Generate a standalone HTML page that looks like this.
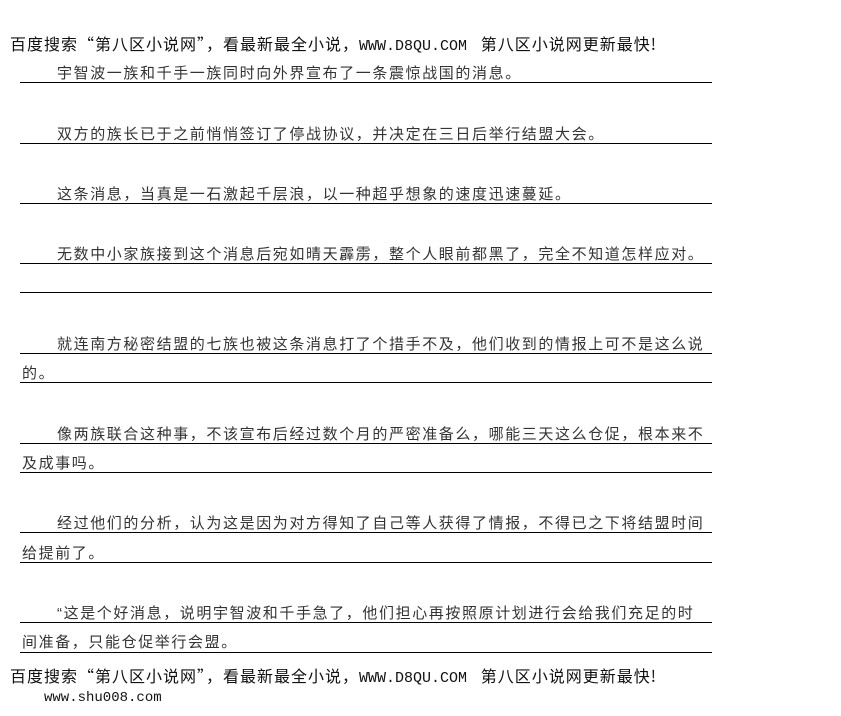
<!DOCTYPE html>
<html><head><meta charset="utf-8"><style>
body{margin:0;width:841px;height:716px;background:#fff;position:relative;overflow:hidden;font-family:"Liberation Sans","Noto Sans CJK SC","WenQuanYi Zen Hei",sans-serif;color:#111}
.h{position:absolute;left:10px;font-size:16px;letter-spacing:1px;white-space:nowrap;line-height:18px;font-family:"Noto Sans CJK SC","WenQuanYi Zen Hei",sans-serif}
.t{position:absolute;font-size:15px;letter-spacing:1.6px;white-space:nowrap;line-height:16px;color:#333}
.l{position:absolute;left:20px;width:692px;height:1px;background:#000}
.m{font-family:"Liberation Mono",monospace;font-size:15px;letter-spacing:0}
</style></head><body>
<div class="h" style="top:34px">百度搜索“第八区小说网”，看最新最全小说，<span class="m">WWW.D8QU.COM</span>&nbsp;&nbsp;&nbsp;第八区小说网更新最快!</div>

<div class="t" style="left:57px;top:66px">宇智波一族和千手一族同时向外界宣布了一条震惊战国的消息。</div>
<div class="l" style="top:82px"></div>

<div class="t" style="left:57px;top:127px">双方的族长已于之前悄悄签订了停战协议，并决定在三日后举行结盟大会。</div>
<div class="l" style="top:143px"></div>

<div class="t" style="left:57px;top:187px">这条消息，当真是一石激起千层浪，以一种超乎想象的速度迅速蔓延。</div>
<div class="l" style="top:203px"></div>

<div class="t" style="left:57px;top:247px">无数中小家族接到这个消息后宛如晴天霹雳，整个人眼前都黑了，完全不知道怎样应对。</div>
<div class="l" style="top:263px"></div>
<div class="l" style="top:292px"></div>

<div class="t" style="left:57px;top:337px">就连南方秘密结盟的七族也被这条消息打了个措手不及，他们收到的情报上可不是这么说</div>
<div class="l" style="top:353px"></div>
<div class="t" style="left:22px;top:366px">的。</div>
<div class="l" style="top:382px"></div>

<div class="t" style="left:57px;top:427px">像两族联合这种事，不该宣布后经过数个月的严密准备么，哪能三天这么仓促，根本来不</div>
<div class="l" style="top:443px"></div>
<div class="t" style="left:22px;top:456px">及成事吗。</div>
<div class="l" style="top:472px"></div>

<div class="t" style="left:57px;top:516px">经过他们的分析，认为这是因为对方得知了自己等人获得了情报，不得已之下将结盟时间</div>
<div class="l" style="top:532px"></div>
<div class="t" style="left:22px;top:546px">给提前了。</div>
<div class="l" style="top:562px"></div>

<div class="t" style="left:57px;top:606px">“这是个好消息，说明宇智波和千手急了，他们担心再按照原计划进行会给我们充足的时</div>
<div class="l" style="top:622px"></div>
<div class="t" style="left:22px;top:635px">间准备，只能仓促举行会盟。</div>
<div class="l" style="top:652px"></div>

<div class="h" style="top:666px">百度搜索“第八区小说网”，看最新最全小说，<span class="m">WWW.D8QU.COM</span>&nbsp;&nbsp;&nbsp;第八区小说网更新最快!</div>
<div class="h m" style="left:44px;top:689px;font-size:14px">www.shu008.com</div>
</body></html>
